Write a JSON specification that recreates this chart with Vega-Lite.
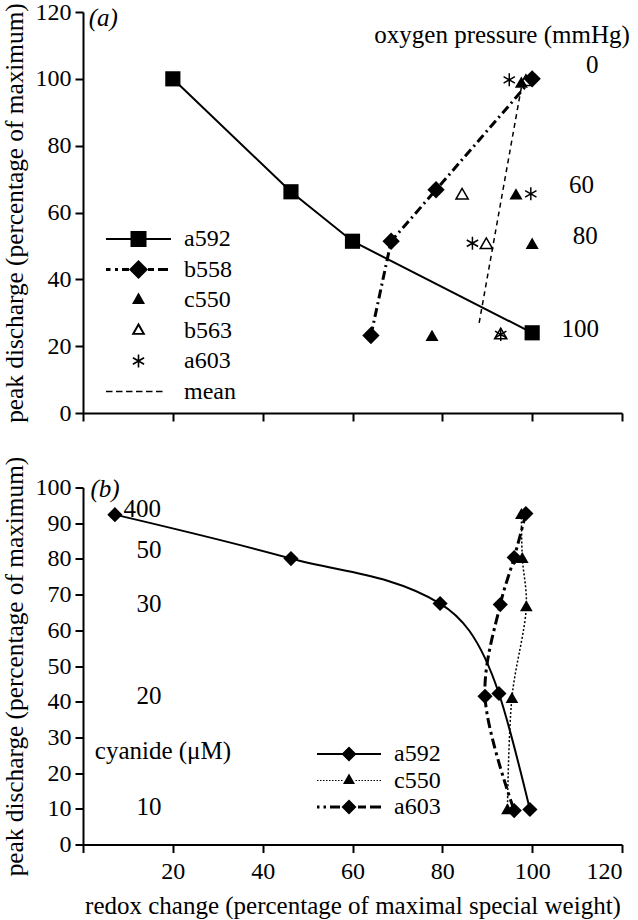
{
  "$schema": "https://vega.github.io/schema/vega-lite/v6.json",
  "background": "white",
  "padding": {"left": 2, "top": 0, "right": 0, "bottom": 0},
  "spacing": 30.5,
  "resolve": {"scale": {"shape": "independent"}, "legend": {"shape": "independent"}},
  "config": {
    "font": "Liberation Serif",
    "view": {"stroke": null},
    "axis": {
      "grid": false,
      "domainColor": "black",
      "domainWidth": 2,
      "tickColor": "black",
      "tickWidth": 2,
      "tickSize": 8,
      "labelFont": "Liberation Serif",
      "labelFontSize": 24,
      "labelColor": "black",
      "labelPadding": 4,
      "titleFont": "Liberation Serif",
      "titleFontSize": 25,
      "titleFontWeight": "normal",
      "titleColor": "black"
    },
    "legend": {
      "labelFont": "Liberation Serif",
      "labelFontSize": 24,
      "labelColor": "black",
      "padding": 0,
      "symbolSize": 400,
      "symbolOffset": 22,
      "symbolStrokeWidth": 0,
      "symbolOpacity": 1,
      "symbolFillColor": "black"
    },
    "text": {"font": "Liberation Serif", "fontSize": 25, "color": "black", "baseline": "middle", "align": "center"}
  },
  "datasets": {
    "a_points": [
      {"series": "a592", "x": 20, "y": 100},
      {"series": "a592", "x": 46.3, "y": 66.2},
      {"series": "a592", "x": 60, "y": 51.4},
      {"series": "a592", "x": 100, "y": 24},
      {"series": "b563", "x": 98.6, "y": 99.6},
      {"series": "b563", "x": 84.4, "y": 65.6},
      {"series": "b563", "x": 89.8, "y": 50.8},
      {"series": "b563", "x": 93, "y": 23.8},
      {"series": "c550", "x": 97.6, "y": 99},
      {"series": "c550", "x": 96.4, "y": 65.6},
      {"series": "c550", "x": 100, "y": 50.8},
      {"series": "c550", "x": 77.7, "y": 23.2},
      {"series": "b558", "x": 64.1, "y": 23.2},
      {"series": "b558", "x": 68.6, "y": 51.4},
      {"series": "b558", "x": 78.6, "y": 66.8},
      {"series": "b558", "x": 100, "y": 100},
      {"series": "a603", "x": 94.9, "y": 99.7},
      {"series": "a603", "x": 99.7, "y": 65.6},
      {"series": "a603", "x": 86.7, "y": 50.8},
      {"series": "a603", "x": 93, "y": 23.5}
    ],
    "a_mean": [
      {"series": "mean", "x": 88.2, "y": 27},
      {"series": "mean", "x": 97.8, "y": 99}
    ],
    "a_notes": [
      {"kind": "tag", "x": 4.5, "y": 118.2, "text": "(a)"},
      {"kind": "note", "x": 93.3, "y": 113.2, "text": "oxygen pressure (mmHg)"},
      {"kind": "note", "x": 113.4, "y": 104, "text": "0"},
      {"kind": "note", "x": 111, "y": 68.3, "text": "60"},
      {"kind": "note", "x": 111.8, "y": 52.9, "text": "80"},
      {"kind": "note", "x": 110.7, "y": 25.2, "text": "100"}
    ],
    "b_points": [
      {"series": "a592", "x": 7.1, "y": 92.4},
      {"series": "a592", "x": 46.3, "y": 80.1},
      {"series": "a592", "x": 79.5, "y": 67.5},
      {"series": "a592", "x": 92.6, "y": 42.3},
      {"series": "a592", "x": 99.5, "y": 9.8},
      {"series": "c550", "x": 97.6, "y": 92.7},
      {"series": "c550", "x": 97.8, "y": 80.4},
      {"series": "c550", "x": 98.7, "y": 66.9},
      {"series": "c550", "x": 95.5, "y": 41.2},
      {"series": "c550", "x": 94.5, "y": 10},
      {"series": "a603", "x": 98.6, "y": 92.7},
      {"series": "a603", "x": 96, "y": 80.4},
      {"series": "a603", "x": 92.9, "y": 67.2},
      {"series": "a603", "x": 89.5, "y": 41.5},
      {"series": "a603", "x": 96, "y": 9.5}
    ],
    "b_notes": [
      {"kind": "tag", "x": 4.9, "y": 99.7, "text": "(b)"},
      {"kind": "note", "x": 13.2, "y": 94.1, "text": "400"},
      {"kind": "note", "x": 14.7, "y": 82.6, "text": "50"},
      {"kind": "note", "x": 14.7, "y": 67.5, "text": "30"},
      {"kind": "note", "x": 14.7, "y": 41.7, "text": "20"},
      {"kind": "note", "x": 14.7, "y": 10.4, "text": "10"},
      {"kind": "note", "x": 17.8, "y": 26.3, "text": "cyanide (μM)"}
    ]
  },
  "vconcat": [
    {
      "width": 539,
      "height": 401,
      "encoding": {
        "x": {
          "field": "x", "type": "quantitative",
          "scale": {"domain": [0, 120], "nice": false},
          "axis": {"values": [0, 20, 40, 60, 80, 100, 120], "labels": false, "title": null}
        },
        "y": {
          "field": "y", "type": "quantitative",
          "scale": {"domain": [0, 120], "nice": false},
          "axis": {"values": [0, 20, 40, 60, 80, 100, 120], "title": "peak discharge (percentage of maximum)", "titleFontSize": 25.3, "titlePadding": 8}
        }
      },
      "layer": [
        {
          "data": {"name": "a_points"},
          "transform": [{"filter": "datum.series === 'a592'"}],
          "mark": {"type": "line", "color": "black", "strokeWidth": 2}
        },
        {
          "data": {"name": "a_points"},
          "transform": [{"filter": "datum.series === 'b558'"}],
          "mark": {"type": "line", "color": "black", "strokeWidth": 3, "strokeDash": [9, 4, 2, 4]}
        },
        {
          "data": {"name": "a_mean"},
          "mark": {"type": "line", "color": "black", "strokeWidth": 1.5, "strokeDash": [5, 4]}
        },
        {
          "data": {"name": "a_points"},
          "transform": [{"filter": "datum.series === 'b563'"}],
          "mark": {"type": "point", "shape": "triangle-up", "fill": "white", "stroke": "black", "strokeWidth": 1.5, "opacity": 1, "size": 150}
        },
        {
          "data": {"name": "a_points"},
          "transform": [{"filter": "datum.series === 'c550'"}],
          "mark": {"type": "point", "shape": "triangle-up", "filled": true, "color": "black", "opacity": 1, "size": 170}
        },
        {
          "data": {"name": "a_points"},
          "transform": [{"filter": "datum.series === 'b558'"}],
          "mark": {"type": "point", "shape": "diamond", "filled": true, "color": "black", "opacity": 1, "size": 300}
        },
        {
          "data": {"name": "a_points"},
          "transform": [{"filter": "datum.series === 'a592'"}],
          "mark": {"type": "point", "shape": "square", "filled": true, "color": "black", "opacity": 1, "size": 230}
        },
        {
          "data": {"name": "a_points"},
          "transform": [{"filter": "datum.series === 'a603'"}],
          "mark": {"type": "point", "shape": "M0,-1V1M-0.87,-0.5L0.87,0.5M-0.87,0.5L0.87,-0.5", "filled": false, "stroke": "black", "strokeWidth": 1.5, "opacity": 1, "size": 170}
        },
        {
          "data": {"name": "a_points"},
          "mark": {"type": "point", "filled": true, "color": "black", "opacity": 0, "strokeWidth": 0},
          "encoding": {
            "shape": {
              "field": "series", "type": "nominal",
              "scale": {
                "domain": ["a592", "b558", "c550", "b563", "a603", "mean"],
                "range": [
                  "M-3.25,-0.1H3.25V0.1H-3.25ZM-0.8,-0.8H0.8V0.8H-0.8Z",
                  "M-3.25,-0.15H-2.8V0.15H-3.25ZM-2.35,-0.15H-2.05V0.15H-2.35ZM-1.65,-0.15H-0.95V0.15H-1.65ZM0.95,-0.15H1.55V0.15H0.95ZM1.95,-0.15H2.95V0.15H1.95ZM0,-0.95L0.95,0L0,0.95L-0.95,0Z",
                  "M0,-0.75L0.65,0.4L-0.65,0.4Z",
                  "M0,-0.8L0.7,0.42L-0.7,0.42ZM0,-0.4L-0.37,0.24L0.37,0.24Z",
                  "M-0.08,-0.65H0.08V0.65H-0.08ZM-0.601,-0.261L-0.519,-0.399L0.601,0.261L0.519,0.399ZM-0.601,0.261L0.519,-0.399L0.601,-0.261L-0.519,0.399Z",
                  "M-3.25,-0.07H-2.6V0.07H-3.25ZM-2.25,-0.07H-1.6V0.07H-2.25ZM-1.25,-0.07H-0.6V0.07H-1.25ZM-0.25,-0.07H0.4V0.07H-0.25ZM0.75,-0.07H1.4V0.07H0.75ZM1.75,-0.07H2.4V0.07H1.75Z"
                ]
              },
              "legend": {
                "orient": "none",
                "legendX": 21.5,
                "legendY": 215,
                "title": null,
                "labelOffset": 33.5,
                "rowPadding": 6.5
              }
            }
          }
        },
        {
          "data": {"name": "a_notes"},
          "transform": [{"filter": "datum.kind === 'note'"}],
          "mark": {"type": "text"},
          "encoding": {"text": {"field": "text"}}
        },
        {
          "data": {"name": "a_notes"},
          "transform": [{"filter": "datum.kind === 'tag'"}],
          "mark": {"type": "text", "fontStyle": "italic"},
          "encoding": {"text": {"field": "text"}}
        }
      ]
    },
    {
      "width": 539,
      "height": 357,
      "encoding": {
        "x": {
          "field": "x", "type": "quantitative",
          "scale": {"domain": [0, 120], "nice": false},
          "axis": {"values": [0, 20, 40, 60, 80, 100, 120], "labelExpr": "datum.value === 0 ? '' : datum.label", "labelPadding": 7, "title": "redox change (percentage of maximal special weight)", "titlePadding": 10}
        },
        "y": {
          "field": "y", "type": "quantitative",
          "scale": {"domain": [0, 100], "nice": false},
          "axis": {"values": [0, 10, 20, 30, 40, 50, 60, 70, 80, 90, 100], "title": "peak discharge (percentage of maximum)", "titleFontSize": 25.3, "titlePadding": 8}
        }
      },
      "layer": [
        {
          "data": {"name": "b_points"},
          "transform": [{"filter": "datum.series === 'a592'"}],
          "mark": {"type": "line", "color": "black", "strokeWidth": 2, "interpolate": "monotone"},
          "encoding": {"order": {"field": "y", "sort": "descending"}}
        },
        {
          "data": {"name": "b_points"},
          "transform": [{"filter": "datum.series === 'c550'"}],
          "mark": {"type": "line", "color": "black", "strokeWidth": 1.5, "strokeDash": [2, 2], "interpolate": "catmull-rom"},
          "encoding": {"order": {"field": "y", "sort": "descending"}}
        },
        {
          "data": {"name": "b_points"},
          "transform": [{"filter": "datum.series === 'a603'"}],
          "mark": {"type": "line", "color": "black", "strokeWidth": 3, "strokeDash": [10, 4, 3, 4], "interpolate": "catmull-rom"},
          "encoding": {"order": {"field": "y", "sort": "descending"}}
        },
        {
          "data": {"name": "b_points"},
          "transform": [{"filter": "datum.series === 'c550'"}],
          "mark": {"type": "point", "shape": "triangle-up", "filled": true, "color": "black", "opacity": 1, "size": 160}
        },
        {
          "data": {"name": "b_points"},
          "transform": [{"filter": "datum.series !== 'c550'"}],
          "mark": {"type": "point", "shape": "diamond", "filled": true, "color": "black", "opacity": 1, "size": 230}
        },
        {
          "data": {"name": "b_points"},
          "mark": {"type": "point", "filled": true, "color": "black", "opacity": 0, "strokeWidth": 0},
          "encoding": {
            "shape": {
              "field": "series", "type": "nominal",
              "scale": {
                "domain": ["a592", "c550", "a603"],
                "range": [
                  "M-3.2,-0.1H3.2V0.1H-3.2ZM0,-0.75L0.75,0L0,0.75L-0.75,0Z",
                  "M-3.2,-0.05H-3.05V0.05H-3.2ZM-2.9,-0.05H-2.75V0.05H-2.9ZM-2.6,-0.05H-2.45V0.05H-2.6ZM-2.3,-0.05H-2.15V0.05H-2.3ZM-2,-0.05H-1.85V0.05H-2ZM-1.7,-0.05H-1.55V0.05H-1.7ZM-1.4,-0.05H-1.25V0.05H-1.4ZM-1.1,-0.05H-0.95V0.05H-1.1ZM-0.8,-0.05H-0.65V0.05H-0.8ZM0.65,-0.05H0.8V0.05H0.65ZM0.95,-0.05H1.1V0.05H0.95ZM1.25,-0.05H1.4V0.05H1.25ZM1.55,-0.05H1.7V0.05H1.55ZM1.85,-0.05H2V0.05H1.85ZM2.15,-0.05H2.3V0.05H2.15ZM2.45,-0.05H2.6V0.05H2.45ZM2.75,-0.05H2.9V0.05H2.75ZM3.05,-0.05H3.2V0.05H3.05ZM0,-0.7L0.6,0.35L-0.6,0.35Z",
                  "M-3.2,-0.15H-2.95V0.15H-3.2ZM-2.55,-0.15H-2.3V0.15H-2.55ZM-1.9,-0.15H-0.9V0.15H-1.9ZM0.9,-0.15H1.7V0.15H0.9ZM2.1,-0.15H3.2V0.15H2.1ZM0,-0.75L0.75,0L0,0.75L-0.75,0Z"
                ]
              },
              "legend": {
                "orient": "none",
                "legendX": 232,
                "legendY": 254.5,
                "title": null,
                "labelOffset": 33,
                "rowPadding": 2.5
              }
            }
          }
        },
        {
          "data": {"name": "b_notes"},
          "transform": [{"filter": "datum.kind === 'note'"}],
          "mark": {"type": "text"},
          "encoding": {"text": {"field": "text"}}
        },
        {
          "data": {"name": "b_notes"},
          "transform": [{"filter": "datum.kind === 'tag'"}],
          "mark": {"type": "text", "fontStyle": "italic"},
          "encoding": {"text": {"field": "text"}}
        }
      ]
    }
  ]
}
